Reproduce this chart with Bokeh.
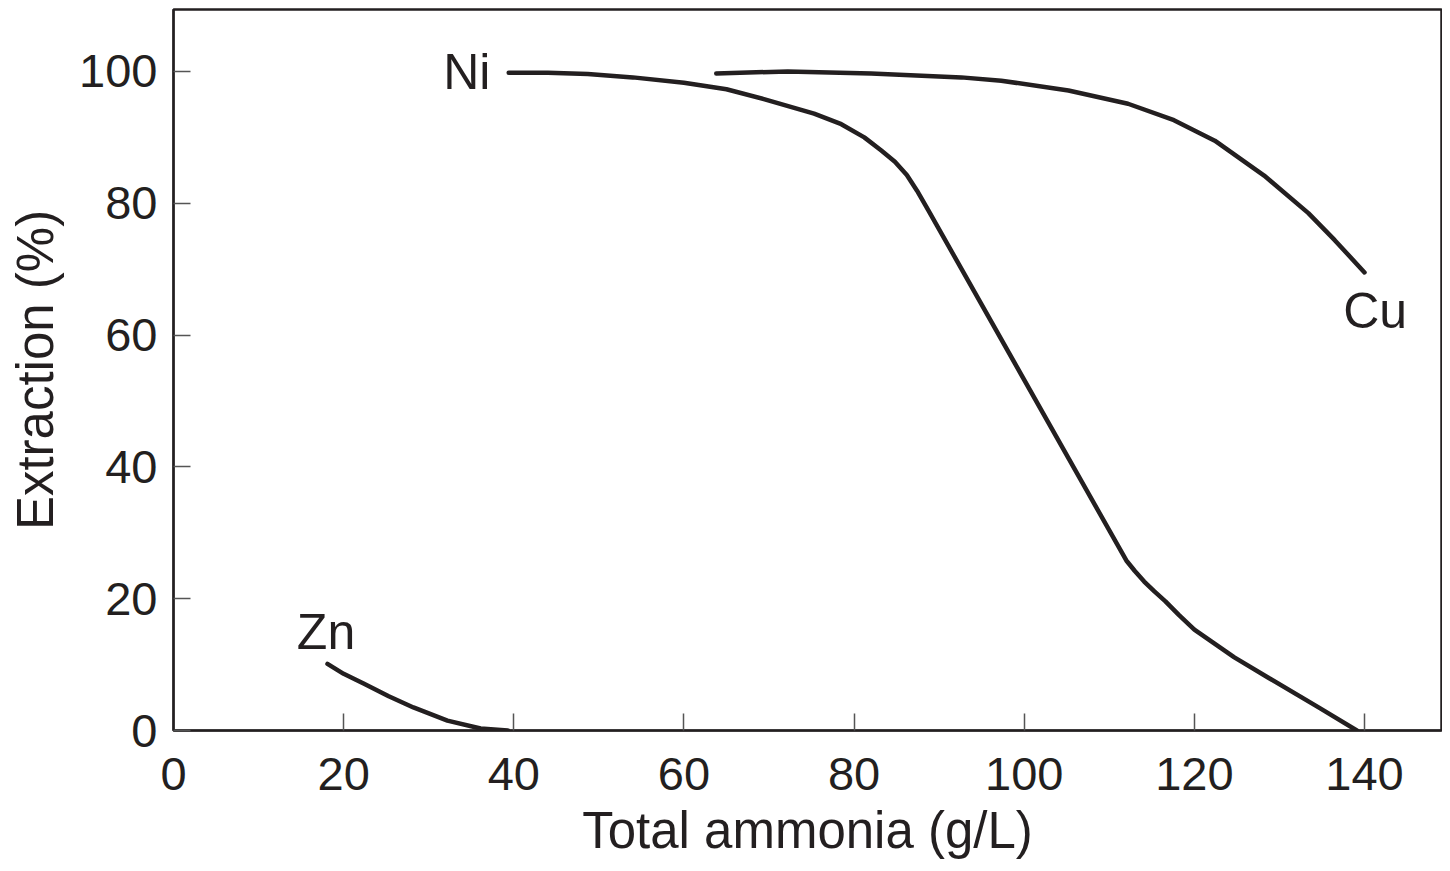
from bokeh.plotting import figure
from bokeh.models import Range1d, FixedTicker, ColumnDataSource
from bokeh.core.properties import value
from bokeh.embed import file_html
from bokeh.resources import INLINE

# Data
ni_x = [39.4, 44.0, 48.7, 54.0, 60.0, 65.0, 69.4, 75.3, 78.5, 81.2, 83.2, 84.8, 86.2, 87.4, 88.7,
        112.0, 113.0, 114.1, 115.3, 116.6, 118.2, 120.0, 124.7, 128.7, 134.6, 139.1]
ni_y = [99.8, 99.8, 99.6, 99.1, 98.3, 97.3, 95.8, 93.6, 92.0, 90.0, 88.0, 86.3, 84.3, 81.9, 79.0,
        25.8, 24.2, 22.6, 21.1, 19.6, 17.5, 15.3, 11.1, 8.0, 3.5, 0.0]

cu_x = [63.8, 72.2, 82.0, 92.6, 97.3, 105.2, 112.2, 117.6, 122.4, 128.2, 133.4, 136.5, 140.0]
cu_y = [99.7, 100.0, 99.7, 99.1, 98.6, 97.1, 95.1, 92.6, 89.5, 84.2, 78.5, 74.4, 69.5]

zn_x = [18.1, 20.0, 22.4, 25.3, 28.2, 32.2, 36.1, 39.3]
zn_y = [10.1, 8.6, 7.1, 5.2, 3.5, 1.5, 0.3, 0.0]

label_text = ["Ni", "Cu", "Zn"]
label_x = [31.7, 137.5, 14.5]
label_y = [99.9, 63.7, 15.0]

x_ticks = [0, 20, 40, 60, 80, 100, 120, 140]
y_ticks = [0, 20, 40, 60, 80, 100]

INK = "#231f20"
FONT = "Liberation Sans"

p = figure(width=1442, height=863, output_backend="svg", toolbar_location=None,
           x_range=Range1d(0, 149.05), y_range=Range1d(0, 109.4),
           min_border_left=173, min_border_right=1, min_border_top=9, min_border_bottom=133)
p.grid.visible = False
p.background_fill_color = "white"
p.border_fill_color = "white"
p.outline_line_color = INK
p.outline_line_width = 2.5

for ax in (p.xaxis[0], p.yaxis[0]):
    ax.axis_line_color = INK
    ax.axis_line_width = 2
    ax.major_tick_in = 17
    ax.major_tick_out = 0
    ax.major_tick_line_color = "#555555"
    ax.major_tick_line_width = 1.5
    ax.minor_tick_line_color = None
    ax.major_label_text_font = FONT
    ax.major_label_text_font_size = "47px"
    ax.major_label_text_color = INK
    ax.axis_label_text_font = FONT
    ax.axis_label_text_font_size = "51px"
    ax.axis_label_text_font_style = "normal"
    ax.axis_label_text_color = INK

p.xaxis.ticker = FixedTicker(ticks=x_ticks)
p.yaxis.ticker = FixedTicker(ticks=y_ticks)
p.xaxis.axis_label = "Total ammonia (g/L)"
p.yaxis.axis_label = "Extraction (%)"
p.xaxis.major_label_standoff = 27
p.xaxis.axis_label_standoff = 9
p.yaxis.major_label_standoff = 16
p.yaxis.axis_label_standoff = 12

for xs, ys in ((ni_x, ni_y), (cu_x, cu_y), (zn_x, zn_y)):
    p.line(xs, ys, line_color=INK, line_width=4.5, line_cap="round", line_join="round")

src = ColumnDataSource(dict(x=label_x, y=label_y, t=label_text))
p.text(x="x", y="y", text="t", source=src, text_font=value(FONT), text_font_size="50px",
       text_color=INK, text_align="left", text_baseline="alphabetic")

open("out.html", "w").write(file_html(p, INLINE))
